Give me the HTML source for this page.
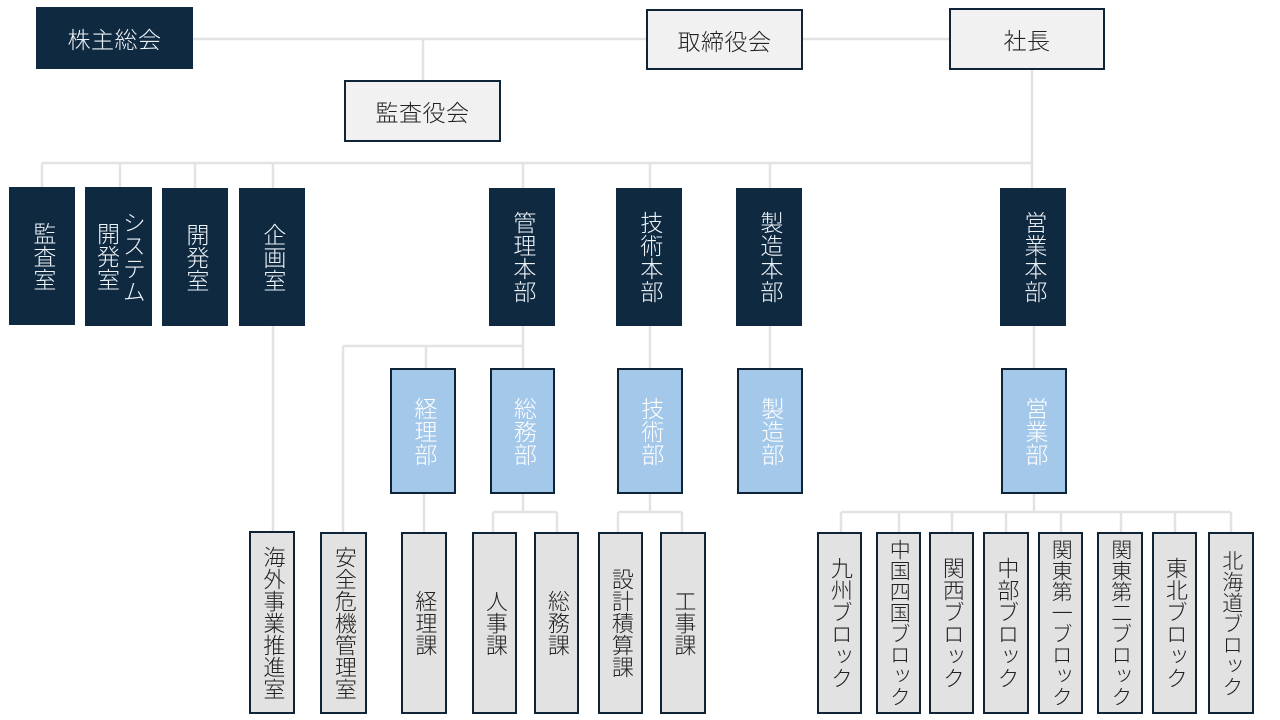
<!DOCTYPE html>
<html lang="ja">
<head>
<meta charset="utf-8">
<style>
  html,body{margin:0;padding:0;background:#fff;}
  body{width:1280px;height:720px;position:relative;overflow:hidden;
       font-family:"Liberation Sans","Noto Sans CJK JP",sans-serif;font-weight:300;}
  svg.lines{position:absolute;left:0;top:0;}
  .b{position:absolute;box-sizing:border-box;display:flex;align-items:center;justify-content:center;}
  .dk{background:#0f2940;color:#eef3f8;}
  .lt{background:#f1f1f1;border:2px solid #0f2436;color:#222;}
  .bl{background:#a4c8ea;border:2px solid #0f2436;color:#fff;}
  .gy{background:#e2e2e2;border:2px solid #0f2436;color:#222;}
  .h{font-size:23px;letter-spacing:0.5px;}
  .v{writing-mode:vertical-rl;text-align:center;line-height:1.12;}
  .f23{font-size:23px;}
  .f22{font-size:22px;}
  .f21{font-size:21px;}
</style>
</head>
<body>
<svg class="lines" width="1280" height="720" viewBox="0 0 1280 720">
  <g stroke="#e3e3e3" stroke-width="2.5" fill="none">
    <path d="M193,39 H949"/>
    <path d="M423,39 V80"/>
    <path d="M1032,70 V188"/>
    <path d="M42,163 H1032"/>
    <path d="M42,163 V188 M120,163 V188 M195,163 V188 M273,163 V188 M523,163 V188 M650,163 V188 M770,163 V188"/>
    <path d="M273,326 V531"/>
    <path d="M523,326 V369"/>
    <path d="M343,346 H523"/>
    <path d="M343,346 V532"/>
    <path d="M426,346 V369"/>
    <path d="M650,326 V369"/>
    <path d="M770,326 V369"/>
    <path d="M1034,326 V369"/>
    <path d="M424,494 V532"/>
    <path d="M523,494 V512 M493,512 H557 M493,512 V532 M557,512 V532"/>
    <path d="M650,494 V512 M618,512 H682 M618,512 V532 M682,512 V532"/>
    <path d="M1034,494 V512 M841,512 H1231"/>
    <path d="M841,512 V532 M899,512 V532 M952,512 V532 M1006,512 V532 M1061,512 V532 M1121,512 V532 M1175,512 V532 M1231,512 V532"/>
  </g>
</svg>

<!-- top row -->
<div class="b dk h" style="left:36px;top:7px;width:157px;height:62px;">株主総会</div>
<div class="b lt h" style="left:646px;top:9px;width:157px;height:61px;">取締役会</div>
<div class="b lt h" style="left:949px;top:8px;width:156px;height:62px;">社長</div>
<div class="b lt h" style="left:344px;top:80px;width:157px;height:62px;">監査役会</div>

<!-- dark vertical boxes -->
<div class="b dk" style="left:9px;top:187px;width:66px;height:138px;"><span class="v f23">監査室</span></div>
<div class="b dk" style="left:85px;top:187px;width:67px;height:139px;"><span class="v f23">システム<br>開発室</span></div>
<div class="b dk" style="left:162px;top:188px;width:66px;height:138px;"><span class="v f23">開発室</span></div>
<div class="b dk" style="left:239px;top:188px;width:66px;height:138px;"><span class="v f23">企画室</span></div>
<div class="b dk" style="left:489px;top:188px;width:66px;height:138px;"><span class="v f23">管理本部</span></div>
<div class="b dk" style="left:616px;top:188px;width:66px;height:138px;"><span class="v f23">技術本部</span></div>
<div class="b dk" style="left:736px;top:188px;width:66px;height:138px;"><span class="v f23">製造本部</span></div>
<div class="b dk" style="left:1000px;top:188px;width:66px;height:138px;"><span class="v f23">営業本部</span></div>

<!-- light blue boxes -->
<div class="b bl" style="left:390px;top:368px;width:66px;height:126px;"><span class="v f23">経理部</span></div>
<div class="b bl" style="left:490px;top:368px;width:65px;height:126px;"><span class="v f23">総務部</span></div>
<div class="b bl" style="left:617px;top:368px;width:66px;height:126px;"><span class="v f23">技術部</span></div>
<div class="b bl" style="left:737px;top:368px;width:66px;height:126px;"><span class="v f23">製造部</span></div>
<div class="b bl" style="left:1001px;top:368px;width:66px;height:126px;"><span class="v f23">営業部</span></div>

<!-- bottom gray boxes -->
<div class="b gy" style="left:249px;top:531px;width:46px;height:183px;"><span class="v f22">海外事業推進室</span></div>
<div class="b gy" style="left:320px;top:532px;width:47px;height:182px;"><span class="v f22">安全危機管理室</span></div>
<div class="b gy" style="left:401px;top:532px;width:46px;height:182px;"><span class="v f22">経理課</span></div>
<div class="b gy" style="left:472px;top:532px;width:45px;height:182px;"><span class="v f22">人事課</span></div>
<div class="b gy" style="left:534px;top:532px;width:45px;height:182px;"><span class="v f22">総務課</span></div>
<div class="b gy" style="left:598px;top:532px;width:45px;height:182px;"><span class="v f22">設計積算課</span></div>
<div class="b gy" style="left:660px;top:532px;width:46px;height:182px;"><span class="v f22">工事課</span></div>

<div class="b gy" style="left:817px;top:532px;width:45px;height:182px;"><span class="v f22">九州ブロック</span></div>
<div class="b gy" style="left:876px;top:532px;width:45px;height:182px;"><span class="v f21">中国四国ブロック</span></div>
<div class="b gy" style="left:929px;top:532px;width:45px;height:182px;"><span class="v f22">関西ブロック</span></div>
<div class="b gy" style="left:983px;top:532px;width:46px;height:182px;"><span class="v f22">中部ブロック</span></div>
<div class="b gy" style="left:1038px;top:532px;width:45px;height:182px;"><span class="v f21">関東第一ブロック</span></div>
<div class="b gy" style="left:1097px;top:532px;width:46px;height:182px;"><span class="v f21">関東第二ブロック</span></div>
<div class="b gy" style="left:1152px;top:532px;width:45px;height:182px;"><span class="v f22">東北ブロック</span></div>
<div class="b gy" style="left:1208px;top:532px;width:46px;height:182px;"><span class="v f21">北海道ブロック</span></div>
</body>
</html>
